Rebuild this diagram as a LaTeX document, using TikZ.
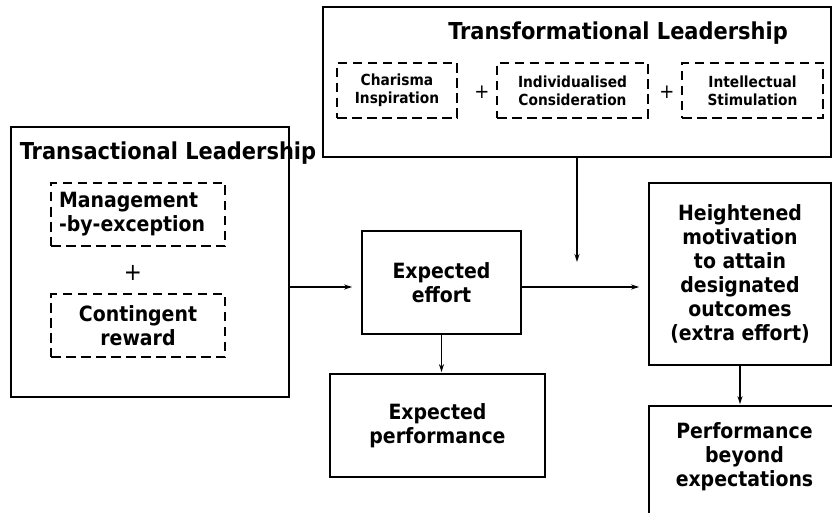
\documentclass[tikz,border=0pt]{standalone}
\usepackage{fontspec}
\setmainfont{DejaVu Sans Condensed}
\usetikzlibrary{arrows.meta,positioning,calc}

\begin{document}
\begin{tikzpicture}[
    x=1pt, y=-1pt, >=Stealth,
    font=\bfseries\fontsize{21}{24}\selectfont,
    box/.style={draw, line width=1.7pt, align=center, inner sep=0pt},
    sub/.style={draw, dash pattern=on 9.5pt off 5.5pt, line width=1.5pt, align=center, inner sep=0pt},
    title/.style={font=\bfseries\fontsize{23.3}{26}\selectfont, inner sep=0pt},
    small/.style={font=\bfseries\fontsize{15.3}{18}\selectfont},
    plus/.style={font=\mdseries\fontsize{24}{24}\selectfont, inner sep=0pt},
    arr/.style={-{Stealth[length=8pt,width=5pt]}, line width=1.3pt}
]
\useasboundingbox (0,0) rectangle (832,513);
\clip (0,0) rectangle (832,513);
% Transformational leadership
\node[box, minimum width=508pt, minimum height=150pt] (tf) at (577,82) {};
\node[title] (tfTitle) at (618,33) {Transformational Leadership};
\node[sub, small, minimum width=120pt, minimum height=55pt] (charisma) at (397,90.5) {Charisma\\Inspiration};
\node[sub, small, minimum width=151pt, minimum height=55pt] (indiv) at (572.5,90.5) {Individualised\\Consideration};
\node[sub, small, minimum width=141pt, minimum height=55pt] (intel) at (752.5,90.5) {Intellectual\\Stimulation};
\node[plus, font=\mdseries\fontsize{20}{20}\selectfont] (plusA) at (482,92) {+};
\node[plus, font=\mdseries\fontsize{20}{20}\selectfont] (plusB) at (667,92) {+};
% Transactional leadership
\node[box, minimum width=278pt, minimum height=270pt] (tr) at (150,262) {};
\node[title] (trTitle) at (168,153) {Transactional Leadership};
\node[sub, align=left, text width=158pt, minimum width=174pt, minimum height=63pt] (mbe) at (138,214.5) {Management\\-by-exception};
\node[plus] (plusC) at (133,273) {+};
\node[sub, minimum width=174pt, minimum height=63pt] (reward) at (138,325.5) {Contingent\\reward};
% Outcomes
\node[box, minimum width=159pt, minimum height=103pt] (eff) at (441.5,282.5) {Expected\\effort};
\node[box, minimum width=215pt, minimum height=103pt] (perf) at (437.5,425.5) {Expected\\performance};
\node[box, minimum width=182pt, minimum height=182pt] (motiv) at (740,274) {Heightened\\motivation\\to attain\\designated\\outcomes\\(extra effort)};
\node[box, minimum width=191pt, minimum height=130pt, text depth=33pt] (beyond) at (744.5,471) {Performance\\beyond\\expectations};
\coordinate (tfEnd) at (577,262);
% Arrows
\draw[arr, shorten >=9pt] ($(tr.east |- eff.west)+(0,4.5)$) -- ($(eff.west)+(0,4.5)$);
\draw[arr, shorten >=9pt] ($(eff.east)+(0,4.5)$) -- ($(motiv.west |- eff.east)+(0,4.5)$);
\draw[arr, shorten >=1pt] (eff.south) -- (eff.south |- perf.north);
\draw[arr] (tf.south) -- (tfEnd);
\draw[arr, shorten >=1pt] (motiv.south) -- (motiv.south |- beyond.north);
\end{tikzpicture}
\end{document}
